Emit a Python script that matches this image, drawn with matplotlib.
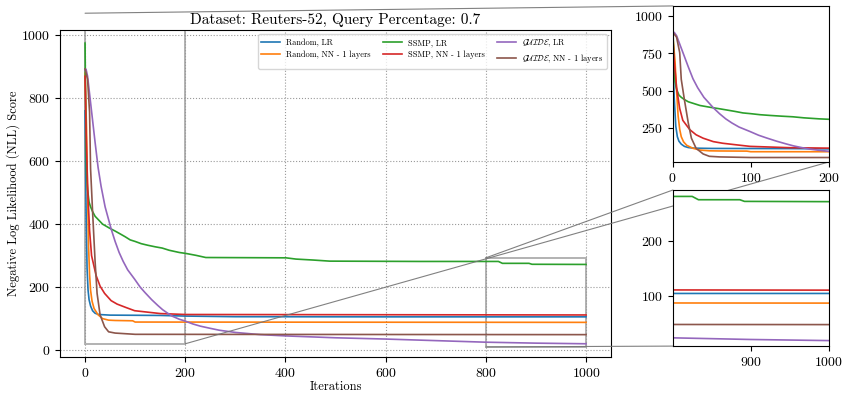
import matplotlib
matplotlib.use("Agg")
import matplotlib.pyplot as plt
from matplotlib.patches import ConnectionPatch, Rectangle

plt.rcParams["font.family"] = "serif"
plt.rcParams["font.serif"] = ["cmr10", "DejaVu Serif"]
plt.rcParams["mathtext.fontset"] = "cm"
plt.rcParams["axes.formatter.use_mathtext"] = True
plt.rcParams["axes.unicode_minus"] = False

# NLL score per iteration for each sampling strategy / model
random_lr_it = [0, 2, 4, 6, 8, 11, 15, 20, 27, 50, 150, 200, 300, 600, 1000]
random_lr_nll = [760, 450, 260, 190, 160, 140, 125, 117, 113, 111, 110, 108, 106, 105.5, 105.5]

random_nn_it = [0, 3, 5, 7, 9, 11, 14, 18, 26, 35, 47, 60, 95, 100, 1000]
random_nn_nll = [880, 700, 500, 330, 240, 190, 155, 132, 112, 100, 95, 94, 93, 89, 88]

ssmp_lr_it = [0, 1, 2, 3, 5, 8, 11, 15, 20, 26, 35, 48, 60, 69, 80, 90, 100, 112, 125,
              140, 154, 168, 188, 201, 221, 241, 401, 421, 455, 488, 668, 825, 833,
              886, 892, 1000]
ssmp_lr_nll = [975, 800, 650, 560, 510, 470, 455, 440, 425, 415, 400, 388, 378, 370, 360,
               350, 345, 338, 333, 328, 324, 317, 310, 307, 301, 294, 293, 289, 286,
               282.5, 281.5, 281.5, 275.5, 275.5, 272.5, 272]

ssmp_nn_it = [0, 2, 5, 9, 13, 22, 30, 39, 52, 64, 82, 99, 150, 200, 1000]
ssmp_nn_nll = [870, 700, 520, 380, 300, 237, 203, 180, 157, 146, 135, 125, 116, 113, 111.5]

guide_lr_it = [0, 2, 5, 10, 15, 20, 26, 32, 40, 46, 52, 60, 68, 76, 85, 99, 110, 120,
               133, 145, 155, 165, 175, 188, 200, 215, 230, 250, 268, 300, 350, 400,
               450, 500, 600, 700, 800, 900, 1000]
guide_lr_nll = [890, 892, 870, 800, 730, 660, 580, 520, 455, 420, 385, 345, 310, 282,
                255, 225, 200, 182, 160, 142, 128, 117, 107, 98, 92, 83, 76, 69, 63,
                56, 49, 45, 42, 39, 35, 30, 25, 22, 20]

guide_nn_it = [0, 5, 9, 11, 15, 20, 24, 30, 39, 47, 60, 80, 100, 1000]
guide_nn_nll = [893, 860, 756, 576, 440, 282, 180, 112, 74, 58, 54, 52, 50, 49]

labels = ["Random, LR", "Random, NN - 1 layers", "SSMP, LR", "SSMP, NN - 1 layers",
          r"$\mathcal{GUIDE}$, LR", r"$\mathcal{GUIDE}$, NN - 1 layers"]
series = [(random_lr_it, random_lr_nll), (random_nn_it, random_nn_nll),
          (ssmp_lr_it, ssmp_lr_nll), (ssmp_nn_it, ssmp_nn_nll),
          (guide_lr_it, guide_lr_nll), (guide_nn_it, guide_nn_nll)]
colors = ["C0", "C1", "C2", "C3", "C4", "C5"]

fig = plt.figure(figsize=(8.44, 3.96), dpi=100)
ax = fig.add_axes([0.0711, 0.0985, 0.653, 0.826])
ax_top = fig.add_axes([0.797, 0.591, 0.185, 0.394])
ax_bot = fig.add_axes([0.797, 0.126, 0.185, 0.394])
ax.set_zorder(0)
ax_top.set_zorder(2)
ax_bot.set_zorder(2)

for (it, nll), lab, c in zip(series, labels, colors):
    ax.plot(it, nll, color=c, lw=1.2, label=lab)
    ax_top.plot(it, nll, color=c, lw=1.2)
    ax_bot.plot(it, nll, color=c, lw=1.2)

ax.set_xlim(-50, 1050)
ax.set_ylim(-22, 1017)
ax.set_xticks([0, 200, 400, 600, 800, 1000])
ax.set_yticks([0, 200, 400, 600, 800, 1000])
ax.grid(True, linestyle=":", color="0.6", lw=0.8)
ax.tick_params(labelsize=10)
ax.set_title("Dataset: Reuters-52, Query Percentage: 0.7", fontsize=11, pad=4)
ax.set_xlabel("Iterations", fontsize=9, labelpad=1)
ax.set_ylabel("Negative Log Likelihood (NLL) Score", fontsize=9, labelpad=1)
ax.legend(loc="upper right", ncol=3, fontsize=6, handlelength=2.2,
          borderpad=0.4, labelspacing=0.4, columnspacing=1.5)

ax_top.set_xlim(0, 200)
ax_top.set_ylim(20, 1070)
ax_top.set_xticks([0, 100, 200])
ax_top.set_yticks([250, 500, 750, 1000])
ax_top.tick_params(labelsize=10)

ax_bot.set_xlim(800, 1000)
ax_bot.set_ylim(10, 293)
ax_bot.set_xticks([900, 1000])
ax_bot.set_yticks([100, 200])
ax_bot.tick_params(labelsize=10)


def zoom_box(inset, corners):
    """Outline the inset's region on the main axes and link chosen corners."""
    x0, x1 = inset.get_xlim()
    y0, y1 = inset.get_ylim()
    ax.add_patch(Rectangle((x0, y0), x1 - x0, y1 - y0, fill=False,
                           edgecolor="0.5", alpha=0.6, lw=1.4))
    for cx, cy in corners:
        pt = (x1 if cx else x0, y1 if cy else y0)
        con = ConnectionPatch(xyA=pt, coordsA=ax.transData, xyB=pt,
                              coordsB=inset.transData, color="0.45",
                              lw=0.8, alpha=0.9)
        con.set_zorder(1)
        fig.add_artist(con)


zoom_box(ax_top, [(0, 1), (1, 0)])
zoom_box(ax_bot, [(0, 1), (0, 0)])

fig.savefig("out.png", dpi=100)
